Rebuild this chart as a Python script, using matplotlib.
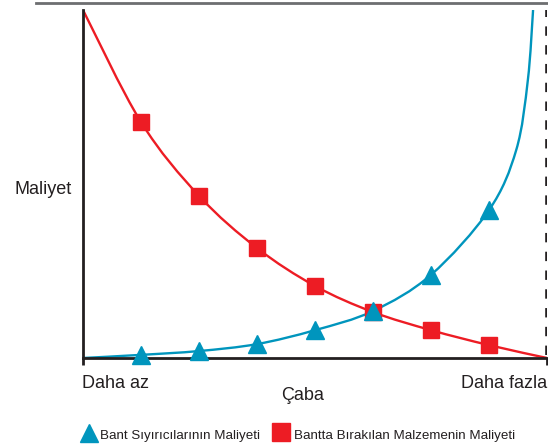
import numpy as np
import matplotlib
matplotlib.use("Agg")
import matplotlib.pyplot as plt
from matplotlib.path import Path
from matplotlib.patches import PathPatch
from matplotlib.lines import Line2D

plt.rcParams['font.family'] = ['Liberation Sans', 'DejaVu Sans']

# Effort levels (0 = less, 8 = more) and cost values (0-100 scale)
effort_marks = [1, 2, 3, 4, 5, 6, 7]
scraper_cost = [0.9, 2.0, 4.0, 8.0, 13.5, 23.9, 42.5]
carryback_cost = [67.8, 46.6, 31.6, 20.7, 13.2, 8.0, 3.7]

# Curve anchor points (including ends of each curve)
scraper_curve_x = [0, 1, 2, 3, 4, 5, 6, 7, 7.47, 7.67, 7.76]
scraper_curve_y = [0.0, 0.9, 2.0, 4.0, 8.0, 13.5, 23.9, 42.5, 59.8, 79.9, 100]
carryback_curve_x = [0, 1, 2, 3, 4, 5, 6, 7, 8]
carryback_curve_y = [100, 67.8, 46.6, 31.6, 20.7, 13.2, 8.0, 3.7, 0.0]

x_tick_labels = ["Daha az", "Daha fazla"]
x_label = "Çaba"
y_label = "Maliyet"
legend_labels = ["Bant Sıyırıcılarının Maliyeti", "Bantta Bırakılan Malzemenin Maliyeti"]

BLUE = "#0095BD"
RED = "#ED1C24"
INK = "#231F20"


def smooth_path(xs, ys):
    """Catmull-Rom curve through the anchors, expressed as cubic Bezier segments."""
    pts = np.column_stack([xs, ys]).astype(float)
    n = len(pts)
    verts = [pts[0]]
    codes = [Path.MOVETO]
    for i in range(n - 1):
        p0 = pts[i - 1] if i > 0 else pts[i]
        p1 = pts[i]
        p2 = pts[i + 1]
        p3 = pts[i + 2] if i + 2 < n else pts[i + 1]
        c1 = p1 + (p2 - p0) / 6.0
        c2 = p2 - (p3 - p1) / 6.0
        verts += [c1, c2, p2]
        codes += [Path.CURVE4] * 3
    return Path(verts, codes)


W, H = 548, 445
fig = plt.figure(figsize=(W / 100, H / 100), dpi=100)
ax = fig.add_axes([83 / W, (H - 358) / H, 464 / W, 348 / H])
ax.set_xlim(0, 8)
ax.set_ylim(0, 100)

ax.add_patch(PathPatch(smooth_path(carryback_curve_x, carryback_curve_y),
                       facecolor="none", edgecolor=RED, lw=1.7, zorder=2))
ax.add_patch(PathPatch(smooth_path(scraper_curve_x, scraper_curve_y),
                       facecolor="none", edgecolor=BLUE, lw=1.7, zorder=2))

ax.plot(effort_marks, carryback_cost, linestyle="none", marker="s", ms=12,
        color=RED, zorder=3, clip_on=False)
ax.plot(effort_marks, scraper_cost, linestyle="none", marker="^", ms=12.5,
        color=BLUE, zorder=4, clip_on=False)

# Dashed limit line on the right
ax.axvline(8, ymin=0.01, ymax=1.0, color=INK, lw=2.6, ls=(0, (2.6, 2.6)), zorder=1)

for side in ["top", "right"]:
    ax.spines[side].set_visible(False)
for side in ["left", "bottom"]:
    ax.spines[side].set_color(INK)
    ax.spines[side].set_linewidth(2.0)
ax.set_yticks([])
ax.set_xticks([0, 8])
ax.set_xticklabels([])
ax.tick_params(axis="x", direction="out", length=5, width=2.0, color=INK)

# Axis texts
fig.text(82 / W, 1 - 383 / H, x_tick_labels[0], ha="left", va="center",
         fontsize=13, color=INK)
fig.text(547 / W, 1 - 383 / H, x_tick_labels[1], ha="right", va="center",
         fontsize=13, color=INK)
fig.text(303 / W, 1 - 396 / H, x_label, ha="center", va="center",
         fontsize=13, color=INK)
fig.text(14 / W, 1 - 189 / H, y_label, ha="left", va="center",
         fontsize=13, color=INK)

# Top rule
fig.add_artist(Line2D([36 / W, 547 / W], [1 - 3 / H, 1 - 3 / H],
                      transform=fig.transFigure, color="#6d6e70", lw=2.0))

# Legend
fig.add_artist(Line2D([89 / W], [1 - 433 / H], transform=fig.transFigure,
                      marker="^", ms=13, color=BLUE, linestyle="none"))
fig.text(100 / W, 1 - 436 / H, legend_labels[0], ha="left", va="center",
         fontsize=9.6, color=INK)
fig.add_artist(Line2D([281 / W], [1 - 432 / H], transform=fig.transFigure,
                      marker="s", ms=12.5, color=RED, linestyle="none"))
fig.text(294 / W, 1 - 436 / H, legend_labels[1], ha="left", va="center",
         fontsize=9.6, color=INK)

fig.savefig("out.png", dpi=100)
